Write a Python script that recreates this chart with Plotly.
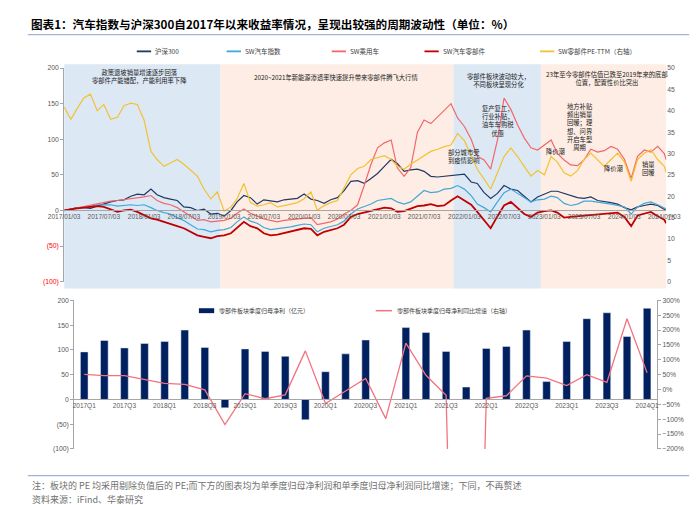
import pandas as pd
import plotly.graph_objects as go

W, H = 700, 505
def px(x): return x / W
def py(y): return 1 - y / H

# ---------------- data: top chart (monthly readings) ----------------
dates = list(pd.date_range("2017-01-03", periods=91, freq=pd.DateOffset(months=1)).strftime("%Y-%m-%d")) + ["2024-07-12"]

hs300 = [0, 2, 4, 4, 3, 6, 9, 12, 14, 15, 20, 23,
         22, 30, 22, 18, 16, 14, 5, 4, 0, 2, -5, -4,
         -8, 0, 12, 21, 18, 9, 15, 13, 12, 15, 16, 17,
         23, 16, 14, 10, 15, 18, 28, 41, 42, 38, 45, 52,
         62, 72, 66, 55, 57, 58, 55, 48, 47, 48, 50, 50,
         51, 40, 38, 25, 17, 24, 35, 30, 28, 20, 12, 19,
         23, 27, 27, 24, 21, 18, 17, 19, 14, 13, 11, 9,
         4, 1, 5, 7, 9, 7, 2, 0]

sw_auto = [0, 2, 4, 5, 6, 8, 8, 8, 6, 7, 8, 7,
           8, 4, 0, -3, -5, -10, -14, -20, -26, -27, -30, -28,
           -27, -24, -16, -9, -15, -18, -24, -27, -26, -24, -23, -21,
           -19, -20, -30, -25, -23, -20, -15, -5, 2, 5, 9, 14,
           16, 17, 12, 9, 12, 20, 28, 25, 26, 30, 31, 35,
           30, 21, 9, 4, -2, 12, 25, 30, 24, 18, 12, 15,
           16, 20, 18, 10, 7, 9, 13, 13, 12, 10, 9, 7,
           5, -5, 5, 10, 12, 8, 3, 2]

sw_car = [0, 2, 4, 6, 7, 10, 12, 13, 14, 15, 16, 17,
          19, 21, 14, 10, 8, 4, -2, -8, -14, -13, -16, -15,
          -14, -11, -4, 2, -4, -8, -12, -14, -16, -14, -13, -12,
          -11, -10, -20, -18, -16, -12, -5, 0, 8, 35, 65, 88,
          95, 99, 60, 48, 60, 110, 127, 122, 131, 140, 150, 130,
          118, 100, 76, 71, 58, 99, 158, 142, 120, 102, 88, 85,
          92, 99, 80, 71, 64, 63, 71, 86, 82, 84, 90, 86,
          72, 45, 76, 85, 82, 90, 80, 71]

sw_parts = [0, 2, 3, 4, 5, 6, 5, 2, -2, 0, 1, -2,
            -6, -11, -13, -16, -18, -22, -25, -30, -35, -37, -39, -36,
            -35, -32, -24, -16, -22, -25, -32, -35, -34, -32, -30, -28,
            -25, -26, -35, -30, -28, -25, -20, -9, -5, -3, 0, 2,
            4, 3, -2, -1, 2, 6, 7, 9, 6, 7, 14, 20,
            14, 8, -2, -14, -25, -8, 7, 12, 4, -5, -9, -3,
            -1, 0, -3, -10, -9, -8, -8, -6, -5, -4, -3, -3,
            -9, -22, -7, -4, -2, -8, -13, -18]

parts_pe = [40.9, 38.0, 40.5, 43.0, 43.9, 40.0, 41.5, 38.0, 38.5, 41.2, 41.8, 41.5,
            37.8, 30.5, 28.6, 27.0, 27.8, 28.6, 27.5, 26.0, 24.7, 21.7, 19.4, 21.0,
            16.5, 17.5, 19.4, 23.0, 18.5, 17.7, 18.0, 18.5, 17.5, 17.8, 18.1, 18.5,
            19.4, 21.0, 16.7, 17.8, 18.5, 19.0, 22.0, 25.0, 26.5, 27.0, 28.6, 29.0,
            29.5, 28.6, 27.0, 26.3, 27.5, 28.5, 29.5, 30.5, 31.0, 31.6, 32.0, 34.7,
            33.0, 29.3, 26.3, 24.0, 21.7, 25.5, 29.3, 31.3, 29.3, 27.0, 24.7, 26.0,
            25.0, 29.3, 28.0, 25.5, 24.7, 26.0, 28.6, 30.1, 28.6, 27.0, 28.6, 30.1,
            28.0, 23.5, 28.6, 30.1, 30.9, 28.6, 27.0, 25.5]

date_ticks = ["2017-01-03", "2017-07-03", "2018-01-03", "2018-07-03", "2019-01-03", "2019-07-03",
              "2020-01-03", "2020-07-03", "2021-01-03", "2021-07-03", "2022-01-03", "2022-07-03",
              "2023-01-03", "2023-07-03", "2024-01-03", "2024-07-03"]
date_labels = [d.replace("-", "/") for d in date_ticks]

# shaded periods (start, end, colour key)
periods = [("2017-01-03", "2018-12-16", "blue"), ("2018-12-16", "2021-11-14", "peach"),
           ("2021-11-14", "2022-12-18", "blue"), ("2022-12-18", "2024-07-12", "peach")]

# ---------------- data: bottom chart ----------------
quarters = [f"{y}Q{q}" for y in range(2017, 2025) for q in range(1, 5)][:29]
profit = [96, 119, 104, 113, 117, 140, 105, -17, 102, 97, 87, -41, 56, 92, 120, -1,
          145, 135, 97, 25, 103, 107, 140, 36, 117, 163, 175, 127, 184]
yoy = [51, 47, 47, 34, 21, 17, -1, -118, -14, -31, -18, 130, -47, -5, 37, -98,
       156, 48, -19, -2600, -30, -21, 46, 38, 13, 50, 24, 238, 56]

# ---------------- styles ----------------
NUM_FONT = "Arial, Liberation Sans, Noto Sans CJK SC, sans-serif"
CJK_FONT = "Noto Sans CJK SC, Arial, sans-serif"
TICK_C = "#595959"
AX_C = "#a6a6a6"
C_HS = "#203864"
C_AUTO = "#41a8d8"
C_CAR = "#f2676b"
C_PARTS = "#c00000"
C_PE = "#f2c230"
SHADE = {"blue": "#dde8f5", "peach": "#fdede4"}

fig = go.Figure()

fig.add_trace(go.Scatter(x=dates, y=hs300, mode="lines", name="沪深300",
                         line=dict(color=C_HS, width=1.2), xaxis="x", yaxis="y"))
fig.add_trace(go.Scatter(x=dates, y=sw_auto, mode="lines", name="SW汽车指数",
                         line=dict(color=C_AUTO, width=1.2), xaxis="x", yaxis="y"))
fig.add_trace(go.Scatter(x=dates, y=sw_car, mode="lines", name="SW乘用车",
                         line=dict(color=C_CAR, width=1.2), xaxis="x", yaxis="y"))
fig.add_trace(go.Scatter(x=dates, y=sw_parts, mode="lines", name="SW汽车零部件",
                         line=dict(color=C_PARTS, width=1.8), xaxis="x", yaxis="y"))
fig.add_trace(go.Scatter(x=dates, y=parts_pe, mode="lines", name="SW零部件PE-TTM（右轴）",
                         line=dict(color=C_PE, width=1.2), xaxis="x", yaxis="y2"))

fig.add_trace(go.Bar(x=quarters, y=profit, name="零部件板块季度归母净利（亿元）",
                     marker=dict(color="#002060"), width=0.38, xaxis="x2", yaxis="y3"))
fig.add_trace(go.Scatter(x=quarters, y=yoy, mode="lines", name="零部件板块季度归母净利同比增速（右轴）",
                         line=dict(color="#f4727f", width=1.3), xaxis="x2", yaxis="y4"))

shapes = []
for s, e, k in periods:
    shapes.append(dict(type="rect", xref="x", yref="paper", x0=s, x1=e, y0=py(281), y1=py(53),
                       fillcolor=SHADE[k], line=dict(width=0), layer="below"))
# title underline and footer rule
shapes.append(dict(type="line", xref="paper", yref="paper", x0=px(4), x1=px(696), y0=py(23), y1=py(23),
                   line=dict(color="#9fb4d6", width=1.2)))
shapes.append(dict(type="line", xref="paper", yref="paper", x0=px(4), x1=px(696), y0=py(471), y1=py(471),
                   line=dict(color="#9fb4d6", width=1.2)))

annotations = []
# title
annotations.append(dict(text="<b>图表1：汽车指数与沪深300自2017年以来收益率情况，呈现出较强的周期波动性（单位：%）</b>",
                        xref="paper", yref="paper", x=px(5), y=py(12), xanchor="left", yanchor="middle",
                        showarrow=False, font=dict(family=CJK_FONT, size=11.6, color="#000000")))

# manual top legend
legend_items = [("沪深300", C_HS, 118), ("SW汽车指数", C_AUTO, 212), ("SW乘用车", C_CAR, 322),
                ("SW汽车零部件", C_PARTS, 419), ("SW零部件PE-TTM（右轴）", C_PE, 540)]
for name, col, x0 in legend_items:
    shapes.append(dict(type="line", xref="paper", yref="paper", x0=px(x0), x1=px(x0 + 15),
                       y0=py(40), y1=py(40), line=dict(color=col, width=1.8)))
    annotations.append(dict(text=name, xref="paper", yref="paper", x=px(x0 + 17), y=py(40),
                            xanchor="left", yanchor="middle", showarrow=False,
                            font=dict(family=CJK_FONT, size=6.5, color="#404040")))

# bottom legend
shapes.append(dict(type="rect", xref="paper", yref="paper", x0=px(183), x1=px(199), y0=py(306), y1=py(301),
                   fillcolor="#002060", line=dict(width=0)))
annotations.append(dict(text="零部件板块季度归母净利（亿元）", xref="paper", yref="paper", x=px(202), y=py(303.5),
                        xanchor="left", yanchor="middle", showarrow=False,
                        font=dict(family=CJK_FONT, size=6, color="#404040")))
shapes.append(dict(type="line", xref="paper", yref="paper", x0=px(368), x1=px(385), y0=py(303.5), y1=py(303.5),
                   line=dict(color="#f4727f", width=1.5)))
annotations.append(dict(text="零部件板块季度归母净利同比增速（右轴）", xref="paper", yref="paper", x=px(388), y=py(303.5),
                        xanchor="left", yanchor="middle", showarrow=False,
                        font=dict(family=CJK_FONT, size=6, color="#404040")))

# in-chart notes
notes = [
    ("政策退坡销量增速逐步回落<br>零部件产能错配，产能利用率下降", 121, 66),
    ("2020~2021年新能源渗透率快速提升带来零部件腾飞大行情", 326, 67),
    ("零部件板块波动较大，<br>不同板块呈现分化", 497, 70),
    ("23年至今零部件估值已跌至2019年来的底部<br>位置，配置性价比突出", 610, 67.5),
    ("复产复工，<br>行业补贴，<br>油车车购税<br>优惠", 496, 111),
    ("部分城市受<br>到疫情影响", 460, 146.5),
    ("降价潮", 556, 142),
    ("地方补贴<br>频出销量<br>回暖；理<br>想、问界<br>开启车型<br>周期", 582, 117),
    ("降价潮", 617, 159),
    ("销量<br>回暖", 653, 159.5),
]
for t, x, y in notes:
    annotations.append(dict(text=t, xref="paper", yref="paper", x=px(x), y=py(y), xanchor="center",
                            yanchor="middle", showarrow=False,
                            font=dict(family=CJK_FONT, size=6.3, color="#1a1a1a")))

# footnotes
annotations.append(dict(text="注：板块的 PE 均采用剔除负值后的 PE;而下方的图表均为单季度归母净利润和单季度归母净利润同比增速；下同，不再赘述",
                        xref="paper", yref="paper", x=px(6), y=py(481), xanchor="left", yanchor="middle",
                        showarrow=False, font=dict(family=CJK_FONT, size=9, color="#6f6f6f")))
annotations.append(dict(text="资料来源：iFind、华泰研究", xref="paper", yref="paper", x=px(6), y=py(495),
                        xanchor="left", yanchor="middle", showarrow=False,
                        font=dict(family=CJK_FONT, size=9, color="#6f6f6f")))

left_vals = [-100, -50, 0, 50, 100, 150, 200]
left_text_top = ["<span style='color:#ff0000'>(100)</span>", "<span style='color:#ff0000'>(50)</span>",
                 "0", "50", "100", "150", "200"]
left_text_bot = ["(100)", "(50)", "0", "50", "100", "150", "200"]

tickfont = dict(family=NUM_FONT, size=6.8, color=TICK_C)

top_dom = [py(274), py(57)]
bot_dom = [py(444), py(293)]
top_zero = top_dom[0] + (top_dom[1] - top_dom[0]) * (100 / 300)
bot_zero = bot_dom[0] + (bot_dom[1] - bot_dom[0]) * (100 / 300)

fig.update_layout(
    width=W, height=H, margin=dict(l=0, r=0, t=0, b=0),
    paper_bgcolor="white", plot_bgcolor="rgba(0,0,0,0)",
    showlegend=False, bargap=0.6,
    shapes=shapes, annotations=annotations,
    xaxis=dict(type="date", domain=[px(42), px(672)], range=["2017-01-03", "2024-07-12"],
               anchor="free", position=top_zero, showline=True, linecolor=AX_C, linewidth=1,
               tickvals=date_ticks, ticktext=date_labels, ticks="", showgrid=False, zeroline=False,
               tickfont=dict(family=NUM_FONT, size=6.5, color=TICK_C)),
    yaxis=dict(domain=top_dom, range=[-100, 200], tickvals=left_vals, ticktext=left_text_top,
               showline=True, linecolor=AX_C, linewidth=1, ticks="outside", ticklen=3, tickcolor=AX_C,
               showgrid=False, zeroline=False, tickfont=tickfont, anchor="x"),
    yaxis2=dict(overlaying="y", side="right", range=[0, 50], dtick=5, showline=False, ticks="",
                showgrid=False, zeroline=False, tickfont=tickfont, anchor="x"),
    xaxis2=dict(type="category", domain=[px(52.5), px(662.5)], anchor="free", position=bot_zero,
                showline=True, linecolor=AX_C, linewidth=1, tickvals=quarters[::2], ticks="",
                showgrid=False, zeroline=False, tickfont=dict(family=NUM_FONT, size=6.5, color=TICK_C)),
    yaxis3=dict(domain=bot_dom, anchor="x2", range=[-100, 200], tickvals=left_vals, ticktext=left_text_bot,
                showline=True, linecolor=AX_C, linewidth=1, ticks="outside", ticklen=3, tickcolor=AX_C,
                showgrid=False, zeroline=False, tickfont=tickfont),
    yaxis4=dict(overlaying="y3", side="right", anchor="x2", range=[-200, 300], dtick=50, ticksuffix="%",
                showline=True, linecolor=AX_C, linewidth=1, ticks="outside", ticklen=3, tickcolor=AX_C,
                showgrid=False, zeroline=False, tickfont=tickfont),
)

fig.write_html("out.html")
